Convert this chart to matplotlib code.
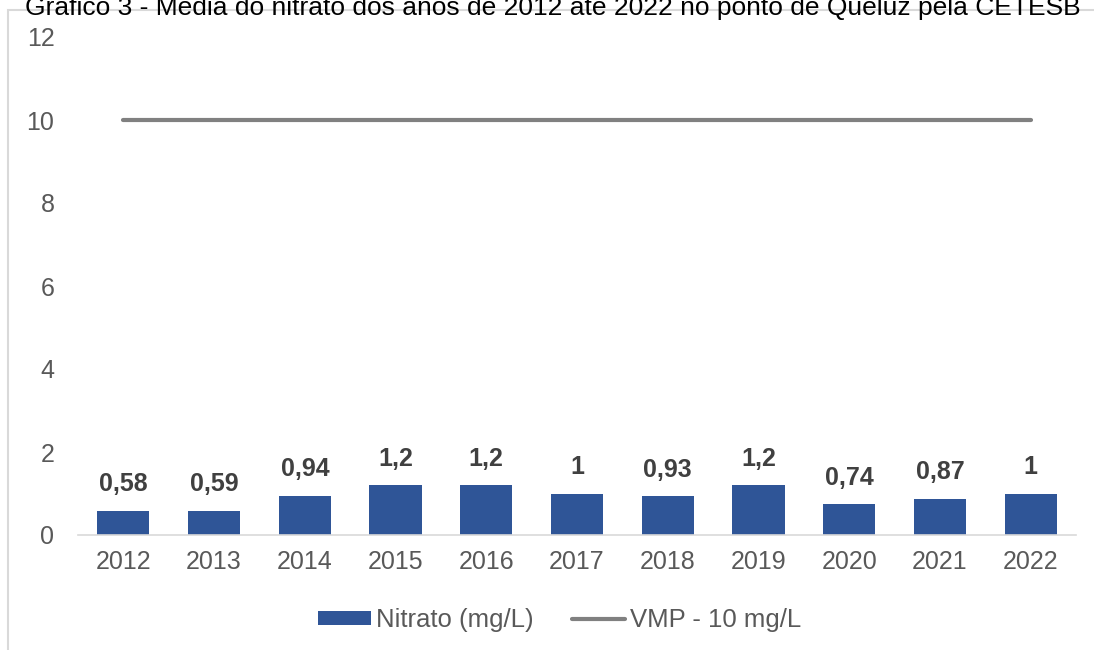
import matplotlib
matplotlib.use("Agg")
import matplotlib.pyplot as plt
from matplotlib.patches import Rectangle

years = ["2012", "2013", "2014", "2015", "2016", "2017", "2018", "2019", "2020", "2021", "2022"]
nitrato = [0.58, 0.59, 0.94, 1.2, 1.2, 1.0, 0.93, 1.2, 0.74, 0.87, 1.0]
labels = ["0,58", "0,59", "0,94", "1,2", "1,2", "1", "0,93", "1,2", "0,74", "0,87", "1"]
vmp = [10] * len(years)
title = "Gráfico 3 - Média do nitrato dos anos de 2012 até 2022 no ponto de Queluz pela CETESB"

plt.rcParams['font.family'] = ['Liberation Sans', 'DejaVu Sans']

fig = plt.figure(figsize=(10.94, 6.5), dpi=100)
fig.patches.append(Rectangle((8/1094, -0.1), 1.2, 1 - 10/650 + 0.1, transform=fig.transFigure,
                             fill=False, edgecolor='#d9d9d9', linewidth=1.5))
fig.text(25/1094, 1 - 15/650, title, ha='left', va='baseline',
         fontsize=19, color='black')

ax = fig.add_axes([78/1094, 1 - 535/650, (1076 - 78)/1094, (535 - 37)/650])
x = list(range(len(years)))
bars = ax.bar(x, nitrato, width=0.575, color='#2F5597', label='Nitrato (mg/L)', zorder=2)
line, = ax.plot(x, vmp, color='#808080', linewidth=3, solid_capstyle='round', label='VMP - 10 mg/L', zorder=3)

for xi, v, lab in zip(x, nitrato, labels):
    ax.annotate(lab, (xi, v), xytext=(0, 10.5), textcoords='offset points', ha='center', va='bottom',
                fontsize=18, fontweight='bold', color='#404040')

ax.set_xlim(-0.5, len(years) - 0.5)
ax.set_ylim(0, 12)
ax.set_yticks([0, 2, 4, 6, 8, 10, 12])
ax.set_xticks(x)
ax.set_xticklabels(years)
ax.tick_params(axis='both', length=0, labelsize=18, labelcolor='#595959')
ax.tick_params(axis='y', pad=17)
ax.tick_params(axis='x', pad=11)
for s in ['top', 'right', 'left']:
    ax.spines[s].set_visible(False)
ax.spines['bottom'].set_color('#d9d9d9')
ax.spines['bottom'].set_linewidth(1.2)

leg = fig.legend([bars, line], ['Nitrato (mg/L)', 'VMP - 10 mg/L'], loc='center',
                 bbox_to_anchor=(560/1094, 1 - 620/650), ncol=2, frameon=False,
                 fontsize=18.5, labelcolor='#595959', handlelength=2.05, handleheight=0.5,
                 handletextpad=0.2, columnspacing=1.5)

fig.savefig("out.png", dpi=100)
